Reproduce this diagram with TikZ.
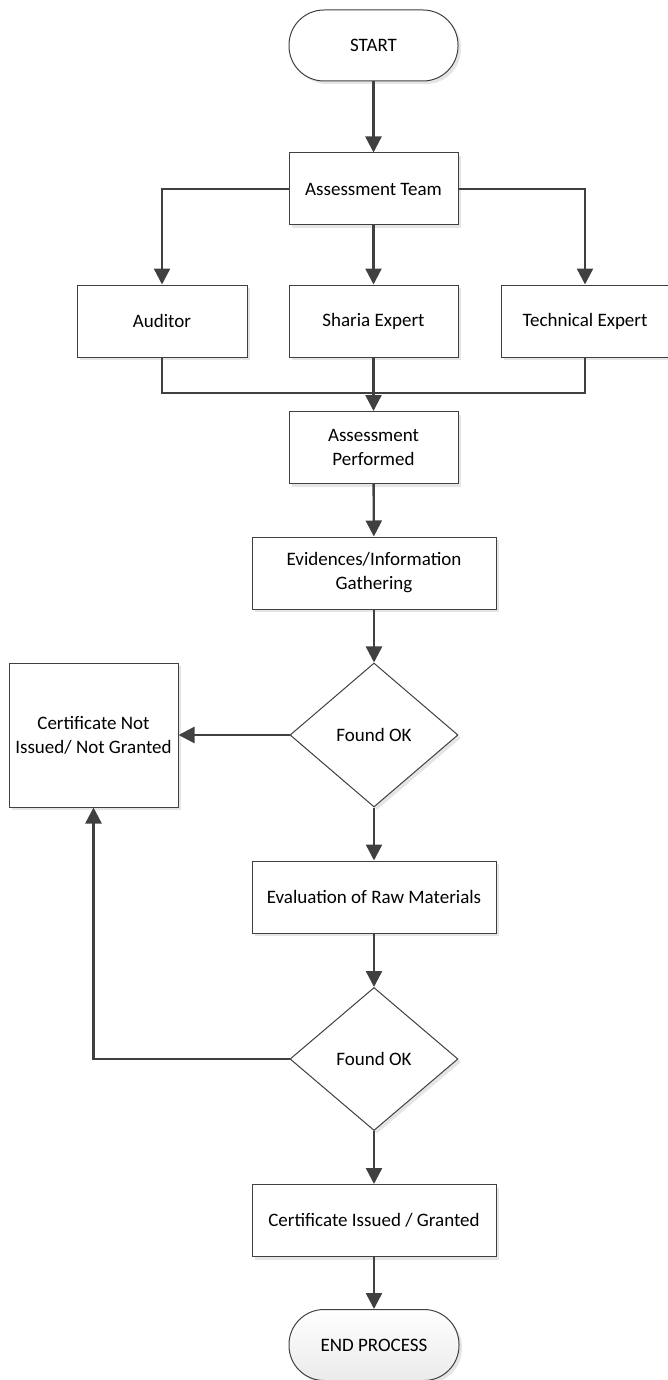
\documentclass[tikz,border=0pt]{standalone}
\usepackage{fontspec}
\setmainfont{Carlito}
\usetikzlibrary{arrows.meta,shapes.geometric,shadows}
\definecolor{lc}{HTML}{404040}
\tikzset{
  base/.style={draw=lc, line width=1pt, fill=white, align=center, inner sep=2pt,
    font=\fontsize{19}{24}\selectfont,
    drop shadow={shadow xshift=3pt, shadow yshift=-3pt, fill=black!10, opacity=1}},
  box/.style={base, rectangle, minimum width=#1, minimum height=72pt},
  box/.default=169pt,
  term/.style={base, rectangle, rounded corners=35pt, minimum width=169pt, minimum height=71pt},
  decide/.style={base, diamond, minimum width=168pt, minimum height=144pt, inner sep=0pt},
  conn/.style={draw=lc, line width=2.4pt, -{Triangle[width=16pt,length=16pt]}},
  plain/.style={draw=lc, line width=2.4pt}
}
\begin{document}
\begin{tikzpicture}[x=1pt,y=-1pt]
\useasboundingbox (0,0) rectangle (668,1380);
\node[term] (start) at (373.5,45.5) {START};
\node[box] (team) at (373.5,189) {Assessment Team};
\node[box=170pt] (aud) at (162,321) {Auditor};
\node[box] (sha) at (373.5,321) {Sharia Expert};
\node[box=168pt] (tec) at (585,321) {Technical Expert};
\node[box] (perf) at (373.5,447.5) {Assessment\\Performed};
\node[box=244pt] (evid) at (374,573) {Evidences/Information\\Gathering};
\node[decide] (d1) at (374,735) {Found OK};
\node[box=169pt, minimum height=144pt] (notg) at (93.5,735) {Certificate Not\\Issued/ Not Granted};
\node[box=244pt] (eval) at (374,897) {Evaluation of Raw Materials};
\node[decide, minimum height=143pt] (d2) at (374,1059) {Found OK};
\node[box=244pt] (cert) at (374,1220.5) {Certificate Issued / Granted};
\node[term, minimum width=170pt, top color=white, bottom color=black!8] (end) at (374,1345) {END PROCESS};
\coordinate (m) at (373.5,393);

\draw[conn] (start) -- (team);
\draw[conn] (team.west) -| (aud.north);
\draw[conn] (team) -- (sha);
\draw[conn] (team.east) -| (tec.north);
\draw[plain] (aud.south) |- (m) -| (tec.south);
\draw[plain] (sha.south) -- (m);
\draw[conn] (m) -- (perf.north);
\draw[conn] (perf) -- (evid);
\draw[conn] (evid) -- (d1);
\draw[conn] (d1.west) -- (notg.east);
\draw[conn] (d1) -- (eval);
\draw[conn] (eval) -- (d2);
\draw[conn] (d2.west) -| (notg.south);
\draw[conn] (d2) -- (cert);
\draw[conn] (cert) -- (end);
\end{tikzpicture}
\end{document}
